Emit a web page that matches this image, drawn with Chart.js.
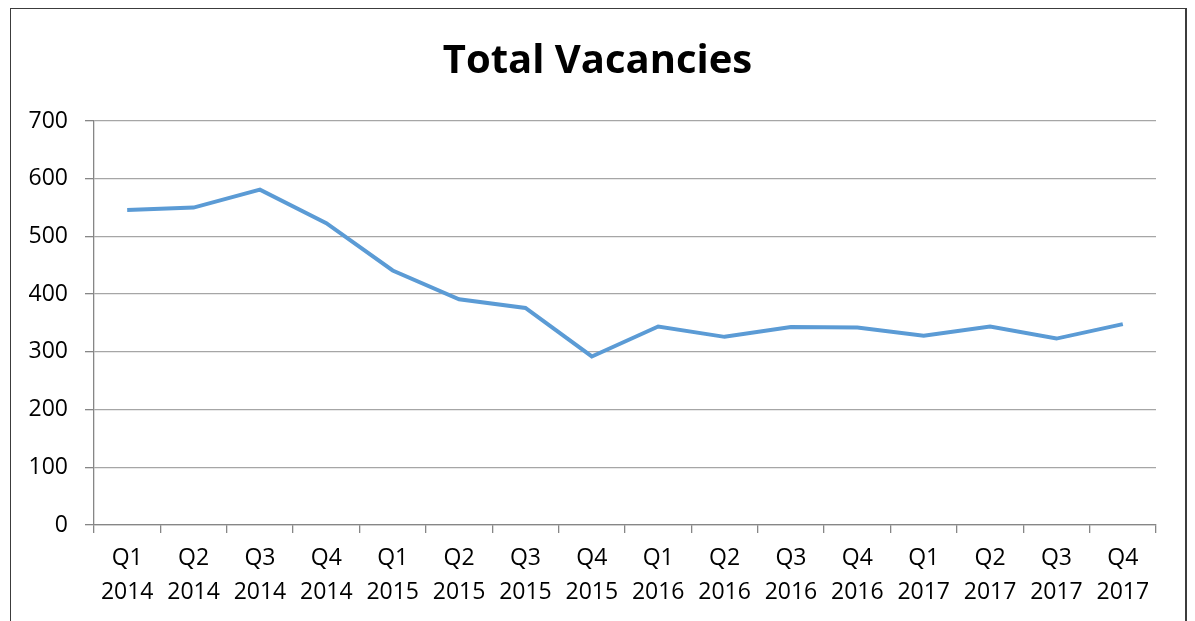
<!DOCTYPE html>
<html>
<head>
<meta charset="utf-8">
<script src="https://cdn.jsdelivr.net/npm/chart.js@4/dist/chart.umd.min.js"></script>
<style>
  html, body { margin: 0; padding: 0; background: #fff; overflow: hidden; }
  #moldura { position: absolute; left: 10px; top: 8px; width: 1174px; height: 700px; border: 1px solid #3c3c3c; border-right-width: 2px; pointer-events: none; }
  #grafico { position: absolute; left: 0; top: 0; }
</style>
</head>
<body>
<canvas id="grafico" width="1195" height="621"></canvas>
<div id="moldura"></div>
<script>
const trimestres = ['Q1', 'Q2', 'Q3', 'Q4', 'Q1', 'Q2', 'Q3', 'Q4', 'Q1', 'Q2', 'Q3', 'Q4', 'Q1', 'Q2', 'Q3', 'Q4'];
const anos = ['2014', '2014', '2014', '2014', '2015', '2015', '2015', '2015', '2016', '2016', '2016', '2016', '2017', '2017', '2017', '2017'];
const vagas = [546, 550, 581, 523, 441, 391, 376, 292, 344, 326, 343, 342, 328, 344, 323, 348];
const yMin = 0, yMax = 700, yPasso = 100;

const fonte = { family: "'Open Sans', 'Noto Sans', sans-serif", size: 23 };
const rotulos = trimestres.map((q, i) => [q, anos[i]]);

const ctx = document.getElementById('grafico').getContext('2d');
new Chart(ctx, {
    type: 'line',
    data: {
        labels: rotulos,
        datasets: [{ data: vagas, borderColor: '#5b9bd5', borderWidth: 4, pointRadius: 0, tension: 0, fill: false }]
    },
    options: {
        responsive: false, animation: false,
        layout: { padding: 0 },
        plugins: {
            legend: { display: false },
            tooltip: { enabled: false },
            title: {
                display: true, text: 'Total Vacancies', color: '#000',
                font: { family: fonte.family, size: 40, weight: 'bold' },
                padding: { top: 38, bottom: 35 }
            }
        },
        scales: {
            y: {
                min: yMin, max: yMax,
                ticks: { stepSize: yPasso, color: '#000', font: fonte, padding: 17 },
                grid: { color: '#a6a6a6', tickColor: '#868686', tickLength: 9, lineWidth: 1.3 },
                border: { color: '#868686', width: 1.3 },
                afterFit: s => { s.width = 94; }
            },
            // eixo vazio à direita só para reservar margem e centrar o título
            margem: {
                position: 'right', min: yMin, max: yMax,
                ticks: { display: false }, grid: { display: false }, border: { display: false },
                afterFit: s => { s.width = 39; }
            },
            x: {
                offset: true,
                ticks: { color: '#000', font: { ...fonte, lineHeight: 1.48 }, padding: 8, maxRotation: 0, autoSkip: false },
                grid: { offset: true, drawOnChartArea: false, tickColor: '#868686', tickLength: 8, lineWidth: 1.3 },
                border: { color: '#868686', width: 1.3 },
                afterFit: s => { s.height = 96; }
            }
        }
    }
});
</script>
</body>
</html>
